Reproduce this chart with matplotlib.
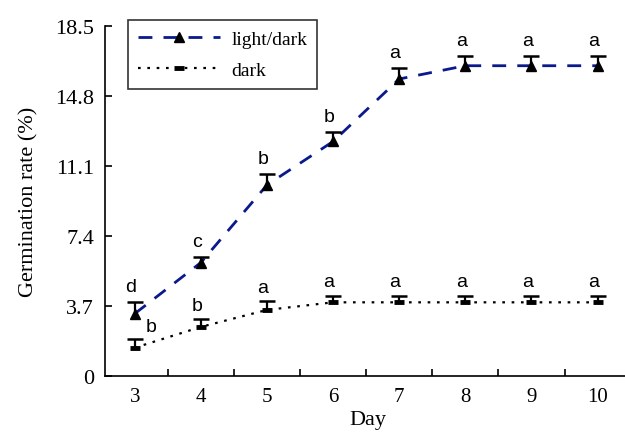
import numpy as np
import matplotlib
matplotlib.use('Agg')
import matplotlib.pyplot as plt
from matplotlib.lines import Line2D

# dados
dias = [3, 4, 5, 6, 7, 8, 9, 10]
luz_escuro = [3.3, 6.0, 10.1, 12.4, 15.7, 16.4, 16.4, 16.4]
luz_escuro_erro = [0.6, 0.3, 0.6, 0.5, 0.6, 0.5, 0.5, 0.5]
escuro = [1.5, 2.6, 3.5, 3.9, 3.9, 3.9, 3.9, 3.9]
escuro_erro = [0.45, 0.4, 0.45, 0.35, 0.35, 0.35, 0.35, 0.35]
letras_luz = ['d', 'c', 'b', 'b', 'a', 'a', 'a', 'a']
letras_escuro = ['b', 'b', 'a', 'a', 'a', 'a', 'a', 'a']
y_ticks = [0, 3.7, 7.4, 11.1, 14.8, 18.5]

serif = 'Liberation Serif'
sans = 'Liberation Sans'

fig = plt.figure(figsize=(6.25, 4.35), dpi=100)
ax = fig.add_axes([0.168, 0.133, 0.84, 0.805])

azul = '#0a1a8c'
estilo_azul = (0, (5, 4))
estilo_preto = (0, (1.2, 3))

# linhas
ax.plot(dias, luz_escuro, ls=estilo_azul, color=azul, lw=2, zorder=2)
ax.plot(dias, escuro, ls=estilo_preto, color='black', lw=1.6, zorder=2)

# barras de erro só para cima
topo_luz = np.array(luz_escuro) + np.array(luz_escuro_erro)
topo_escuro = np.array(escuro) + np.array(escuro_erro)
ax.vlines(dias, luz_escuro, topo_luz, color='black', lw=1.6, zorder=3)
ax.plot(dias, topo_luz, '_', color='black', ms=12, mew=1.8, zorder=3)
ax.vlines(dias, escuro, topo_escuro, color='black', lw=1.6, zorder=3)
ax.plot(dias, topo_escuro, '_', color='black', ms=12, mew=1.8, zorder=3)

# marcadores
ax.plot(dias, luz_escuro, '^', color='black', ms=7, zorder=4)
ax.plot(dias, escuro, '_', color='black', ms=7, mew=3.5, zorder=4)

# letras de significância
for i, d in enumerate(dias):
    ax.annotate(letras_luz[i], (d, topo_luz[i]), xytext=(-3, 5),
                textcoords='offset points', ha='center', va='bottom',
                fontsize=14, family=sans)
    if i == 0:
        ax.annotate(letras_escuro[i], (d, escuro[i]), xytext=(12, 9),
                    textcoords='offset points', ha='center', va='bottom',
                    fontsize=14, family=sans)
    else:
        ax.annotate(letras_escuro[i], (d, topo_escuro[i]), xytext=(-3, 4),
                    textcoords='offset points', ha='center', va='bottom',
                    fontsize=14, family=sans)

ax.set_xlim(2.55, 10.49)
ax.set_ylim(0, 18.5)
ax.set_yticks(y_ticks)
ax.set_yticklabels(['0', '3.7', '7.4', '11.1', '14.8', '18.5'], family=serif, fontsize=16)
ax.set_xticks(dias)
ax.set_xticklabels([str(d) for d in dias], family=serif, fontsize=15)
ax.set_xticks(np.arange(3.5, 10.5, 1), minor=True)
ax.tick_params(axis='x', which='major', length=0, pad=8)
ax.tick_params(axis='x', which='minor', direction='in', length=5, width=1.2)
ax.tick_params(axis='y', direction='in', length=5, width=1.2, pad=8)
ax.spines['top'].set_visible(False)
ax.spines['right'].set_visible(False)
for s in ['left', 'bottom']:
    ax.spines[s].set_linewidth(1.2)

ax.set_xlabel('Day', family=serif, fontsize=16, labelpad=3)
ax.set_ylabel('Germination rate (%)', family=serif, fontsize=16, labelpad=12)

# legenda
h1 = Line2D([], [], ls=estilo_azul, color=azul, lw=2, marker='^',
            mfc='black', mec='black', ms=7)
h2 = Line2D([], [], ls=estilo_preto, color='black', lw=1.6, marker='_',
            mfc='black', mec='black', ms=7, mew=3.5)
leg = fig.legend([h1, h2], ['light/dark', 'dark'], loc='upper left',
                 bbox_to_anchor=(0.19, 0.973), prop={'family': serif, 'size': 14},
                 frameon=True, fancybox=False, edgecolor='black',
                 handlelength=4.2, borderpad=0.5, labelspacing=0.7,
                 handletextpad=0.6)
leg.get_frame().set_linewidth(1.2)

fig.savefig('out.png', dpi=100)
